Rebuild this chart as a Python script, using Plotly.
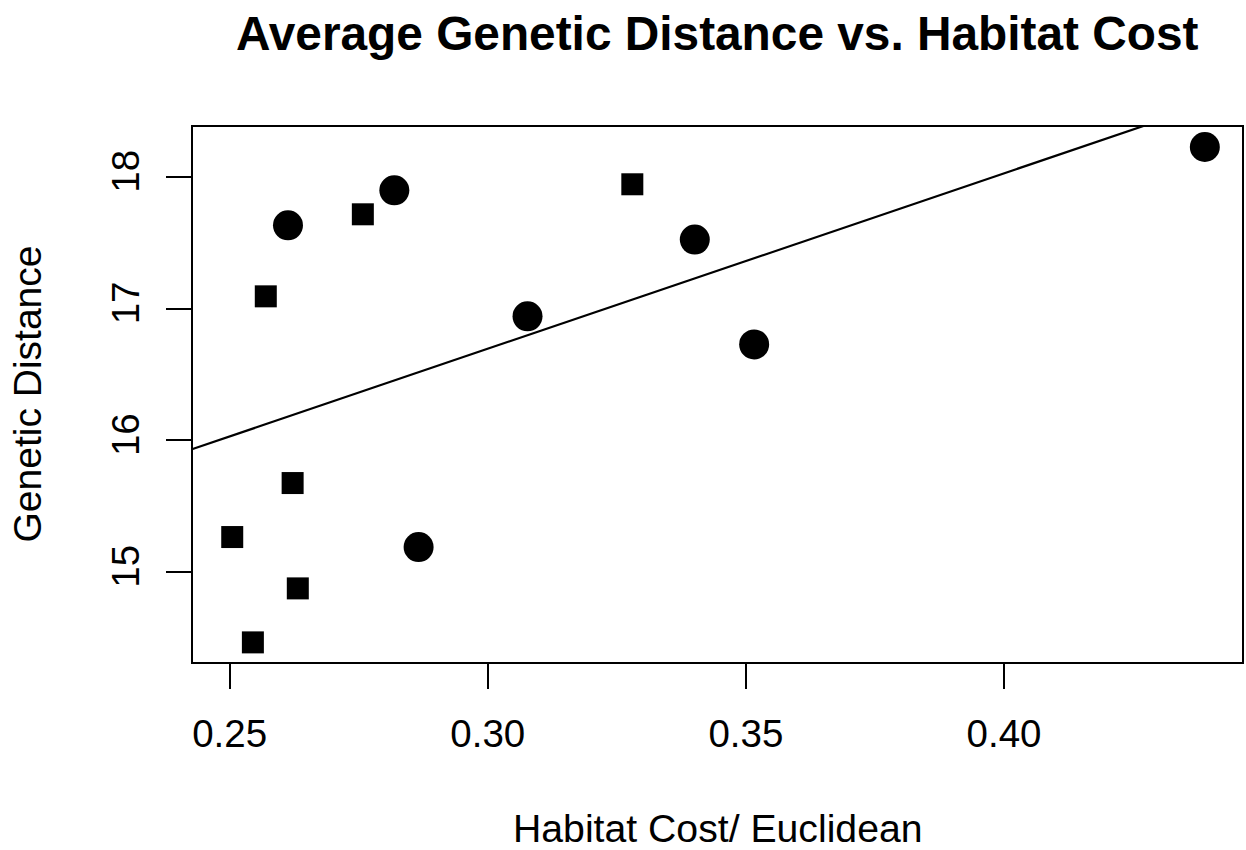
import plotly.graph_objects as go

# Sites plotted as filled circles
circle_cost = [0.2613, 0.2819, 0.3077, 0.3401, 0.3516, 0.4389, 0.2866]
circle_dist = [17.633, 17.899, 16.942, 17.525, 16.729, 18.228, 15.190]

# Sites plotted as filled squares
square_cost = [0.2758, 0.2570, 0.3280, 0.2622, 0.2505, 0.2632, 0.2545]
square_dist = [17.717, 17.094, 17.945, 15.676, 15.266, 14.876, 14.466]

# Fitted regression line: distance = intercept + slope * cost
fit_intercept = 12.70
fit_slope = 13.32

x_ticks = [0.25, 0.30, 0.35, 0.40]
x_tick_labels = ["0.25", "0.30", "0.35", "0.40"]
y_ticks = [15, 16, 17, 18]
y_tick_labels = ["15", "16", "17", "18"]

x_range = [0.2429, 0.4461]
y_range = [14.317, 18.380]

FONT = "Liberation Sans, Arial, Helvetica, sans-serif"

fig = go.Figure()

fig.add_trace(go.Scatter(
    x=circle_cost, y=circle_dist, mode="markers",
    marker=dict(symbol="circle", size=30, color="black", line=dict(width=0)),
    showlegend=False, hoverinfo="x+y",
))
fig.add_trace(go.Scatter(
    x=square_cost, y=square_dist, mode="markers",
    marker=dict(symbol="square", size=22, color="black", line=dict(width=0)),
    showlegend=False, hoverinfo="x+y",
))

# abline across the full x range, clipped by the plotting box
line_x = [x_range[0] - 0.01, x_range[1] + 0.01]
line_y = [fit_intercept + fit_slope * v for v in line_x]
fig.add_trace(go.Scatter(
    x=line_x, y=line_y, mode="lines",
    line=dict(color="black", width=2.2),
    showlegend=False, hoverinfo="skip",
))

axis_common = dict(
    showgrid=False, zeroline=False,
    showline=True, linecolor="black", linewidth=2, mirror=True,
    ticks="outside", ticklen=25, tickwidth=2, tickcolor="black",
    tickfont=dict(family=FONT, size=38.5, color="black"),
)

fig.update_xaxes(
    range=x_range, tickvals=x_ticks, ticktext=x_tick_labels,
    ticklabelstandoff=12, **axis_common,
)
fig.update_yaxes(
    range=y_range, tickvals=y_ticks, ticktext=y_tick_labels,
    tickangle=-90, ticklabelstandoff=12, **axis_common,
)

annotations = [
    dict(text="<b>Average Genetic Distance vs. Habitat Cost</b>",
         xref="paper", yref="paper", x=0.5, y=1, yshift=94,
         xanchor="center", yanchor="middle", showarrow=False,
         font=dict(family=FONT, size=47.8, color="black")),
    dict(text="Habitat Cost/ Euclidean",
         xref="paper", yref="paper", x=0.5, y=0, yshift=-166,
         xanchor="center", yanchor="middle", showarrow=False,
         font=dict(family=FONT, size=39.2, color="black")),
    dict(text="Genetic Distance",
         xref="paper", yref="paper", x=0, y=0.5, xshift=-166,
         xanchor="center", yanchor="middle", textangle=-90, showarrow=False,
         font=dict(family=FONT, size=39, color="black")),
]

fig.update_layout(
    width=1246, height=850,
    margin=dict(l=193, r=2, t=127, b=188, pad=0),
    paper_bgcolor="white", plot_bgcolor="white",
    annotations=annotations,
    showlegend=False,
)

fig.write_html("out.html", config={"displayModeBar": False})
